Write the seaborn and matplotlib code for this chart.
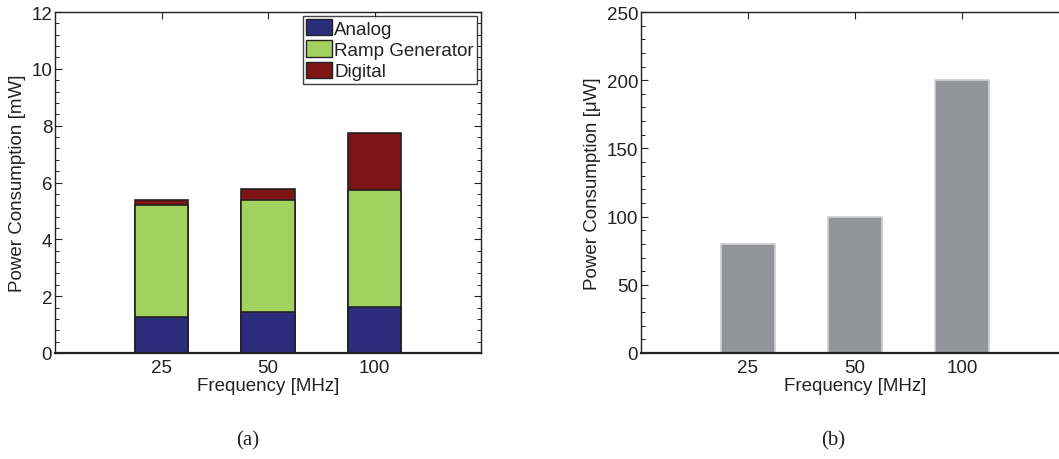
import pandas as pd
import numpy as np
import matplotlib
matplotlib.use("Agg")
import matplotlib.pyplot as plt
from matplotlib.ticker import AutoMinorLocator
from matplotlib.patches import Patch
import seaborn as sns

#%% donnees
frequences = ["25", "50", "100"]
analog = [1.25, 1.43, 1.62]
ramp = [3.95, 3.97, 4.13]
digital = [0.20, 0.37, 2.00]
puissance_uw = [80, 100, 200]

sns.set_style("ticks")
plt.rcParams['font.family'] = ['Liberation Sans', 'DejaVu Sans']
plt.rcParams['font.size'] = 13.5
plt.rcParams['text.color'] = '#222222'
plt.rcParams['axes.labelcolor'] = '#222222'
plt.rcParams['xtick.color'] = '#222222'
plt.rcParams['ytick.color'] = '#222222'

col_analog = '#2b2c7c'
col_ramp = '#a3d15f'
col_digital = '#7d1517'
col_gris = '#939598'

df = pd.DataFrame({'freq': frequences, 'analog': analog, 'ramp': ramp, 'digital': digital})
df['bas'] = df['analog']
df['milieu'] = df['analog'] + df['ramp']
df['total'] = df['milieu'] + df['digital']
df_uw = pd.DataFrame({'freq': frequences, 'p': puissance_uw})

fig = plt.figure(figsize=(10.59, 4.60), dpi=100)
ax1 = fig.add_axes([55/1059, 1-354/460, 426/1059, 341/460])
ax2 = fig.add_axes([641/1059, 1-354/460, 428/1059, 341/460])

# barres empilees : on superpose les cumuls
for col, c in [('total', col_digital), ('milieu', col_ramp), ('bas', col_analog)]:
    sns.barplot(data=df, x='freq', y=col, color=c, width=0.5, saturation=1,
                edgecolor='#222222', linewidth=1.2, ax=ax1)

sns.barplot(data=df_uw, x='freq', y='p', color=col_gris, width=0.5, saturation=1,
            edgecolor='#d0d0d2', linewidth=1.2, ax=ax2)

def style_axe(ax, ymax, pas, ylabel):
    ax.set_xlim(-1, 3)
    ax.set_ylim(0, ymax)
    ax.set_yticks(np.arange(0, ymax + 1e-9, pas))
    ax.yaxis.set_minor_locator(AutoMinorLocator(5))
    ax.tick_params(direction='in', top=True, right=True, length=5, width=0.8,
                   labelsize=13.5, pad=2)
    ax.tick_params(which='minor', direction='in', right=True, length=3, width=0.7)
    ax.tick_params(axis='x', length=5, pad=4)
    for s in ax.spines.values():
        s.set_visible(True)
        s.set_color('#222222')
        s.set_linewidth(1.0)
    ax.spines['bottom'].set_linewidth(1.6)
    ax.set_xlabel('Frequency [MHz]', fontsize=13.5, labelpad=1)
    ax.set_ylabel(ylabel, fontsize=13.5, labelpad=4)

style_axe(ax1, 12, 2, 'Power Consumption [mW]')
style_axe(ax2, 250, 50, 'Power Consumption [\u03bcW]')

handles = [Patch(facecolor=col_analog, edgecolor='#222222', label='Analog'),
           Patch(facecolor=col_ramp, edgecolor='#222222', label='Ramp Generator'),
           Patch(facecolor=col_digital, edgecolor='#222222', label='Digital')]
leg = ax1.legend(handles=handles, loc='upper right', fontsize=13.5, frameon=True,
                 fancybox=False, borderaxespad=0.2, borderpad=0.18, labelspacing=0.15,
                 handlelength=1.4, handleheight=0.95, handletextpad=0.1)
leg.get_frame().set_edgecolor('#111111')
leg.get_frame().set_linewidth(1.0)

fig.text(248/1059, 1-441/460, '(a)', fontsize=15, family=['Liberation Serif', 'DejaVu Serif'],
         ha='center', va='center')
fig.text(833/1059, 1-441/460, '(b)', fontsize=15, family=['Liberation Serif', 'DejaVu Serif'],
         ha='center', va='center')

fig.savefig('out.png', dpi=100)
